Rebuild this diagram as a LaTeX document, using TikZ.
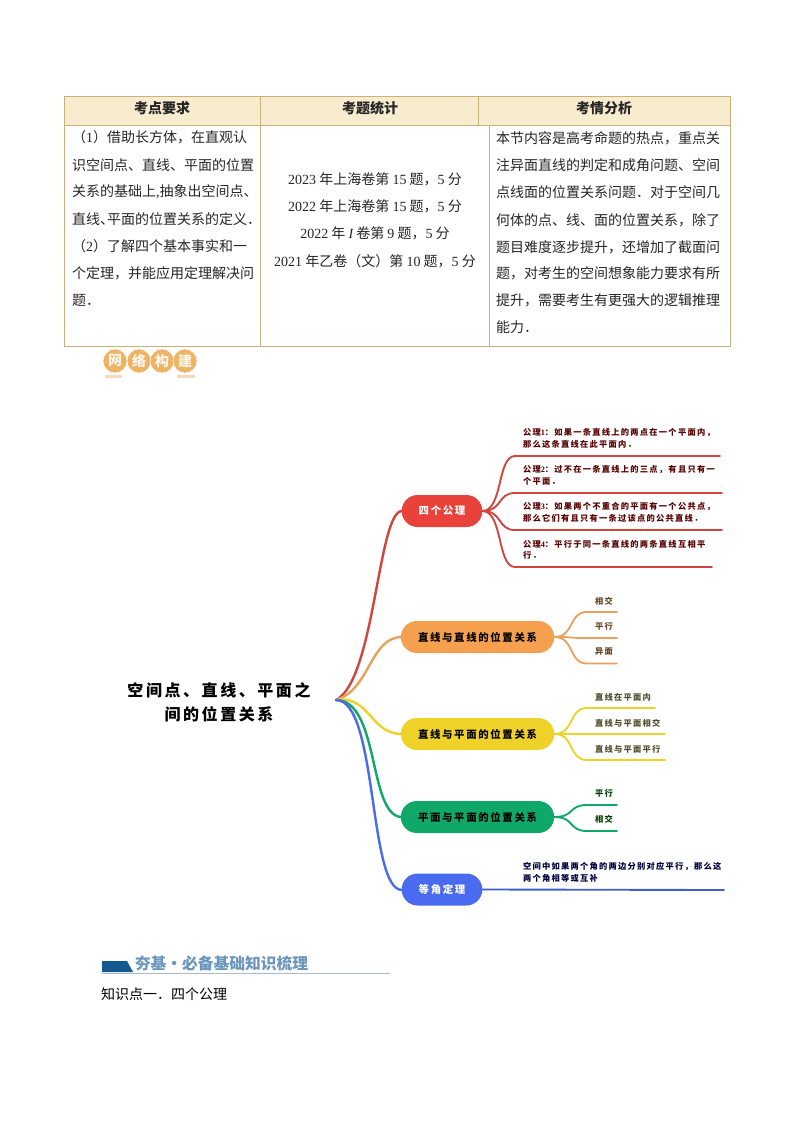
\documentclass[tikz,border=0pt]{standalone}
\usepackage{fontspec}
\setmainfont{Noto Sans CJK SC}
\newfontfamily\lat{Liberation Serif}
\newfontfamily\mma[LetterSpace=15]{Noto Sans CJK SC}
\newfontfamily\mmb[LetterSpace=16]{Noto Sans CJK SC}
\definecolor{tline}{HTML}{C9B27A}
\definecolor{thead}{HTML}{F8ECCF}
\definecolor{cred}{HTML}{E8423B}
\definecolor{credb}{HTML}{D2453F}
\definecolor{corange}{HTML}{F4A04F}
\definecolor{corangeb}{HTML}{E9A15E}
\definecolor{cyellow}{HTML}{EFD229}
\definecolor{cgreen}{HTML}{10A868}
\definecolor{cblue}{HTML}{4A6BEF}
\definecolor{cblueb}{HTML}{3F5FD0}
\definecolor{badge}{HTML}{EFB366}
\definecolor{badgebar}{HTML}{F5D9B8}
\definecolor{hblue}{HTML}{135B8F}
\definecolor{htext}{HTML}{6C96BE}
\definecolor{hline}{HTML}{A9BCD0}
\tikzset{
  every node/.style={inner sep=0pt,outer sep=0pt},
  cell/.style={anchor=west,font=\fontsize{10.5pt}{12pt}\selectfont,text=black!85},
  midcell/.style={font=\fontsize{10.5pt}{12pt}\selectfont,text=black!85},
  headcell/.style={font=\fontsize{10.5pt}{12pt}\selectfont\bfseries,text=black!85},
  pill/.style={rounded corners=12pt,minimum height=24pt,font=\mmb\fontsize{7.8pt}{9pt}\selectfont\bfseries},
  shortpill/.style={pill,minimum width=60.5pt,text=white},
  longpill/.style={pill,minimum width=115pt,text=black},
  leaf/.style={anchor=west,font=\mma\fontsize{6.2pt}{7pt}\selectfont\bfseries},
  branch/.style={line width=1.8pt,line cap=round},
  twig/.style={line width=1.4pt,line cap=round},
  badgedisc/.style={circle,fill=badge,draw=white,line width=.4pt,minimum size=18pt,text=white!92!orange,font=\fontsize{10.5pt}{11pt}\selectfont\bfseries},
  roottext/.style={font=\mmb\fontsize{12pt}{14pt}\selectfont\bfseries},
}
\begin{document}
\begin{tikzpicture}[x=0.75pt,y=-0.75pt]
\useasboundingbox (0,0) rectangle (794,1123);
\fill[white] (0,0) rectangle (794,1123);
% table
\fill[thead] (64,96.5) rectangle (730,126);
\draw[tline,line width=.75pt] (64,96.5) rectangle (730,346);
\draw[tline,line width=.75pt] (64,126) -- (730,126);
\draw[tline,line width=.75pt] (260.5,96.5) -- (260.5,346);
\draw[tline,line width=.75pt] (478.5,96.5) -- (478.5,126);
\draw[tline,line width=.75pt] (489.5,126) -- (489.5,346);
\node[headcell] (h1) at (162,108) {考点要求};
\node[headcell] (h2) at (370,108) {考题统计};
\node[headcell] (h3) at (604,108) {考情分析};
\node[cell] (a1) at (72,137.5) {（{\lat 1}）借助长方体，在直观认};
\node[cell] (a2) at (72,165) {识空间点、直线、平面的位置};
\node[cell] (a3) at (72,192) {关系的基础上{\lat ,}抽象出空间点、};
\node[cell] (a4) at (72,219.5) {直线、\kern-.5em平面的位置关系的定义．};
\node[cell] (a5) at (72,246) {（{\lat 2}）了解四个基本事实和一};
\node[cell] (a6) at (72,273) {个定理，并能应用定理解决问};
\node[cell] (a7) at (72,300) {题．};
\node[midcell] (b1) at (375,179) {{\lat 2023} 年上海卷第 {\lat 15} 题，{\lat 5} 分};
\node[midcell] (b2) at (375,206) {{\lat 2022} 年上海卷第 {\lat 15} 题，{\lat 5} 分};
\node[midcell] (b3) at (375,233) {{\lat 2022} 年 {\lat\itshape I} 卷第 {\lat 9} 题，{\lat 5} 分};
\node[midcell] (b4) at (375,261) {{\lat 2021} 年乙卷（文）第 {\lat 10} 题，{\lat 5} 分};
\node[cell] (c1) at (496,138) {本节内容是高考命题的热点，重点关};
\node[cell] (c2) at (496,165) {注异面直线的判定和成角问题、空间};
\node[cell] (c3) at (496,192) {点线面的位置关系问题．对于空间几};
\node[cell] (c4) at (496,220) {何体的点、线、面的位置关系，除了};
\node[cell] (c5) at (496,247) {题目难度逐步提升，还增加了截面问};
\node[cell] (c6) at (496,273) {题，对考生的空间想象能力要求有所};
\node[cell] (c7) at (496,300) {提升，需要考生有更强大的逻辑推理};
\node[cell] (c8) at (496,327) {能力．};
% badge
\fill[badgebar] (105,375) rectangle (122,378);
\fill[badgebar] (177,375) rectangle (195,378);
\node[badgedisc] (w1) at (115,361) {网};
\node[badgedisc] (w2) at (139,361) {络};
\node[badgedisc] (w3) at (162,361) {构};
\node[badgedisc] (w4) at (185,361) {建};
% mind map: anchors
\coordinate (root) at (336,700);
\coordinate (p1w) at (402,511);
\coordinate (p2w) at (402,637);
\coordinate (p3w) at (402,734);
\coordinate (p4w) at (402,817);
\coordinate (p5w) at (402,890);
\node[roottext] (t1) at (219,690) {空间点、直线、平面之};
\node[roottext] (t2) at (219,714) {间的位置关系};
% main branches
\draw[branch,credb] (root) .. controls (375,680) and (378,511) .. (p1w);
\draw[branch,corangeb] (root) .. controls (370,690) and (370,637) .. (p2w);
\draw[branch,cyellow] (root) .. controls (370,695) and (370,734) .. (p3w);
\draw[branch,cgreen] (root) .. controls (380,700) and (368,817) .. (p4w);
\draw[branch,cblue] (root) .. controls (378,700) and (368,890) .. (p5w);
% pills
\node[shortpill,fill=cred] (p1) at (442,511) {四个公理};
\node[longpill,fill=corange] (p2) at (477.5,637) {直线与直线的位置关系};
\node[longpill,fill=cyellow] (p3) at (477.5,734) {直线与平面的位置关系};
\node[longpill,fill=cgreen] (p4) at (477.5,817) {平面与平面的位置关系};
\node[shortpill,fill=cblue] (p5) at (442,889.5) {等角定理};
% red leaves
\foreach \n/\y/\e in {a/456/720,b/493/722,c/530/722,d/567/712}{
  \coordinate (r\n s) at (515,\y);
  \coordinate (r\n e) at (\e,\y);
  \draw[twig,credb] (p1.east) .. controls (503,511) and (497,\y) .. (r\n s) -- (r\n e);
}
\tikzset{every node/.append style={text=red!35!black}}
\node[leaf] (l1) at (523,433) {公理{\lat 1}：如果一条直线上的两点在一个平面内，};
\node[leaf] (l2) at (523,444) {那么这条直线在此平面内．};
\node[leaf] (l3) at (523,470) {公理{\lat 2}：过不在一条直线上的三点，有且只有一};
\node[leaf] (l4) at (523,481) {个平面．};
\node[leaf] (l5) at (523,507) {公理{\lat 3}：如果两个不重合的平面有一个公共点，};
\node[leaf] (l6) at (523,518) {那么它们有且只有一条过该点的公共直线．};
\node[leaf] (l7) at (523,544) {公理{\lat 4}：平行于同一条直线的两条直线互相平};
\node[leaf] (l8) at (523,555) {行．};
% orange leaves
\foreach \n/\y in {a/612,b/638,c/663.5}{
  \coordinate (o\n s) at (587,\y);
  \coordinate (o\n e) at (617,\y);
  \draw[twig,corangeb] (p2.east) .. controls (575,637) and (568,\y) .. (o\n s) -- (o\n e);
}
\tikzset{every node/.append style={text=brown!55!black}}
\node[leaf] (o1) at (595,601) {相交};
\node[leaf] (o2) at (595,626) {平行};
\node[leaf] (o3) at (595,652) {异面};
% yellow leaves
\foreach \n/\y/\e in {a/708/655,b/734/665,c/760/665}{
  \coordinate (y\n s) at (587,\y);
  \coordinate (y\n e) at (\e,\y);
  \draw[twig,cyellow] (p3.east) .. controls (575,734) and (568,\y) .. (y\n s) -- (y\n e);
}
\tikzset{every node/.append style={text=olive!45!black}}
\node[leaf] (y1) at (595,697) {直线在平面内};
\node[leaf] (y2) at (595,723) {直线与平面相交};
\node[leaf] (y3) at (595,749) {直线与平面平行};
% green leaves
\foreach \n/\y in {a/805,b/831}{
  \coordinate (g\n s) at (587,\y);
  \coordinate (g\n e) at (617,\y);
  \draw[twig,cgreen] (p4.east) .. controls (575,817) and (568,\y) .. (g\n s) -- (g\n e);
}
\tikzset{every node/.append style={text=green!25!black}}
\node[leaf] (g1) at (595,793.5) {平行};
\node[leaf] (g2) at (595,819.5) {相交};
% blue leaf
\coordinate (be) at (724,890);
\draw[twig,cblueb] (p5.east) -- (be);
\tikzset{every node/.append style={text=blue!25!black}}
\node[leaf] (b5) at (523,867) {空间中如果两个角的两边分别对应平行，那么这};
\node[leaf] (b6) at (523,878) {两个角相等或互补};
% footer heading
\tikzset{every node/.append style={text=black}}
\fill[hblue] (102,961) -- (127,961) -- (133,972) -- (102,972) -- cycle;
\draw[hline,line width=.75pt] (102,973.5) -- (390,973.5);
\node[anchor=west,font=\fontsize{11.8pt}{14pt}\selectfont\bfseries,text=htext] (f1) at (135,963) {夯基·必备基础知识梳理};
\node[anchor=west,font=\fontsize{10.5pt}{12pt}\selectfont] (f2) at (101,994) {知识点一．四个公理};
\end{tikzpicture}
\end{document}
